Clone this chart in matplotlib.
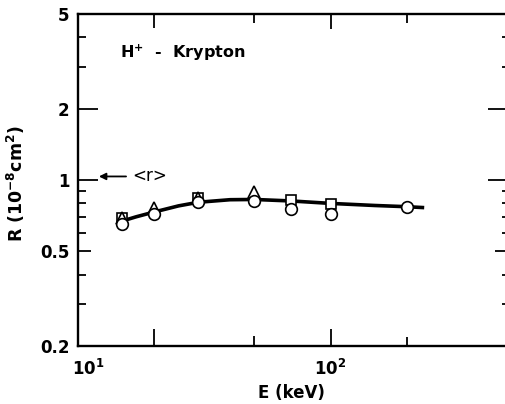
import numpy as np
import matplotlib
matplotlib.use("Agg")
import matplotlib.pyplot as plt
import matplotlib.transforms as mtransforms

plt.rcParams['font.family'] = ['DejaVu Sans']
plt.rcParams['font.weight'] = 'bold'
plt.rcParams['mathtext.fontset'] = 'dejavusans'
plt.rcParams['mathtext.default'] = 'bf'

# measured cross sections (E in keV, R in 1e-8 cm^2)
circle_E = [15, 20, 30, 50, 70, 100, 200]
circle_R = [0.652, 0.717, 0.81, 0.815, 0.752, 0.717, 0.772]
square_E = [15, 30, 70, 100]
square_R = [0.69, 0.84, 0.823, 0.792]
triangle_E = [15, 20, 30, 50]
triangle_R = [0.69, 0.764, 0.84, 0.893]

# smooth curve through the data
curve_E = [14.5, 17, 20, 25, 30, 40, 50, 70, 100, 150, 200, 235]
curve_R = [0.665, 0.70, 0.733, 0.778, 0.806, 0.826, 0.828, 0.816, 0.797, 0.781, 0.772, 0.765]

r_mean = 1.035

x_ticks = [10, 20, 50, 100, 200, 500]
x_labels = ['10$^{1}$', '', '', '10$^{2}$', '', '']
y_ticks = [0.2, 0.5, 1, 2, 5]
y_labels = ['0.2', '0.5', '1', '2', '5']
y_minor = [0.3, 0.4, 0.6, 0.7, 0.8, 0.9, 3, 4]

fig = plt.figure(figsize=(5.05, 4.04), dpi=100)
ax = fig.add_axes([78 / 505, 58 / 404, 429 / 505, 332 / 404])

ax.plot(curve_E, curve_R, color='black', lw=2.6, solid_capstyle='butt', zorder=2)
mk = dict(color='black', markerfacecolor='white', markeredgecolor='black',
          markeredgewidth=1.2, linestyle='none', zorder=3)
ax.plot(square_E, square_R, marker='s', markersize=7.2, **mk)
ax.plot(triangle_E, triangle_R, marker='^', markersize=8, **mk)
ax.plot(circle_E, circle_R, marker='o', markersize=8.4, **mk)

ax.set_xscale('log')
ax.set_yscale('log')
ax.set_xlim(10, 500)
ax.set_ylim(0.2, 5)

ax.set_xticks(x_ticks)
ax.set_xticklabels(x_labels)
ax.set_yticks(y_ticks)
ax.set_yticklabels(y_labels)
ax.set_yticks(y_minor, minor=True)
ax.xaxis.set_minor_locator(matplotlib.ticker.NullLocator())
ax.tick_params(axis='both', which='both', direction='in', top=True, right=True,
               width=1.3, labelsize=12, colors='black')
ax.tick_params(axis='x', pad=9)
ax.tick_params(axis='y', pad=6)
ax.tick_params(axis='y', which='minor', length=5.8)

for s in ax.spines.values():
    s.set_linewidth(1.7)

# per-tick lengths in pixels (bottom/left, top/right)
px = 72 / 100
x_len = [(0, 0), (17, 14), (10, 9), (17, 15), (9, 9), (0, 0)]
for t, (a, b) in zip(ax.xaxis.get_major_ticks(), x_len):
    t.tick1line.set_markersize(a * px)
    t.tick2line.set_markersize(b * px)
y_len = [(0, 0), (13, 12), (20, 19), (20, 19), (0, 0)]
for t, (a, b) in zip(ax.yaxis.get_major_ticks(), y_len):
    t.tick1line.set_markersize(a * px)
    t.tick2line.set_markersize(b * px)
for t in ax.yaxis.get_minor_ticks():
    t.tick2line.set_markersize(5 * px)

# nudge the 10^1 label right, clear of the 0.2 label
first = ax.xaxis.get_major_ticks()[0].label1
first.set_transform(first.get_transform() +
                    mtransforms.ScaledTranslation(0.10, 0, fig.dpi_scale_trans))

ax.set_xlabel('E (keV)', fontsize=12, fontweight='bold')
ax.set_ylabel('R (10$^{-8}$cm$^{2}$)', fontsize=12.5, fontweight='bold')
ax.xaxis.set_label_coords(213 / 429, -0.113)
ax.yaxis.set_label_coords(-0.12, 0.49)

ax.text(0.098, 0.868, 'H$^{+}$  -  Krypton', transform=ax.transAxes,
        fontsize=11.5, fontweight='bold', ha='left', va='baseline')

ax.annotate('', xy=(12.1, r_mean), xytext=(15.5, r_mean),
            arrowprops=dict(arrowstyle='-|>', color='black', lw=1.3,
                            mutation_scale=10, shrinkA=0, shrinkB=0))
ax.text(16.4, r_mean, '<r>', fontsize=12, fontweight='normal',
        ha='left', va='center')

fig.savefig('out.png', dpi=100)
